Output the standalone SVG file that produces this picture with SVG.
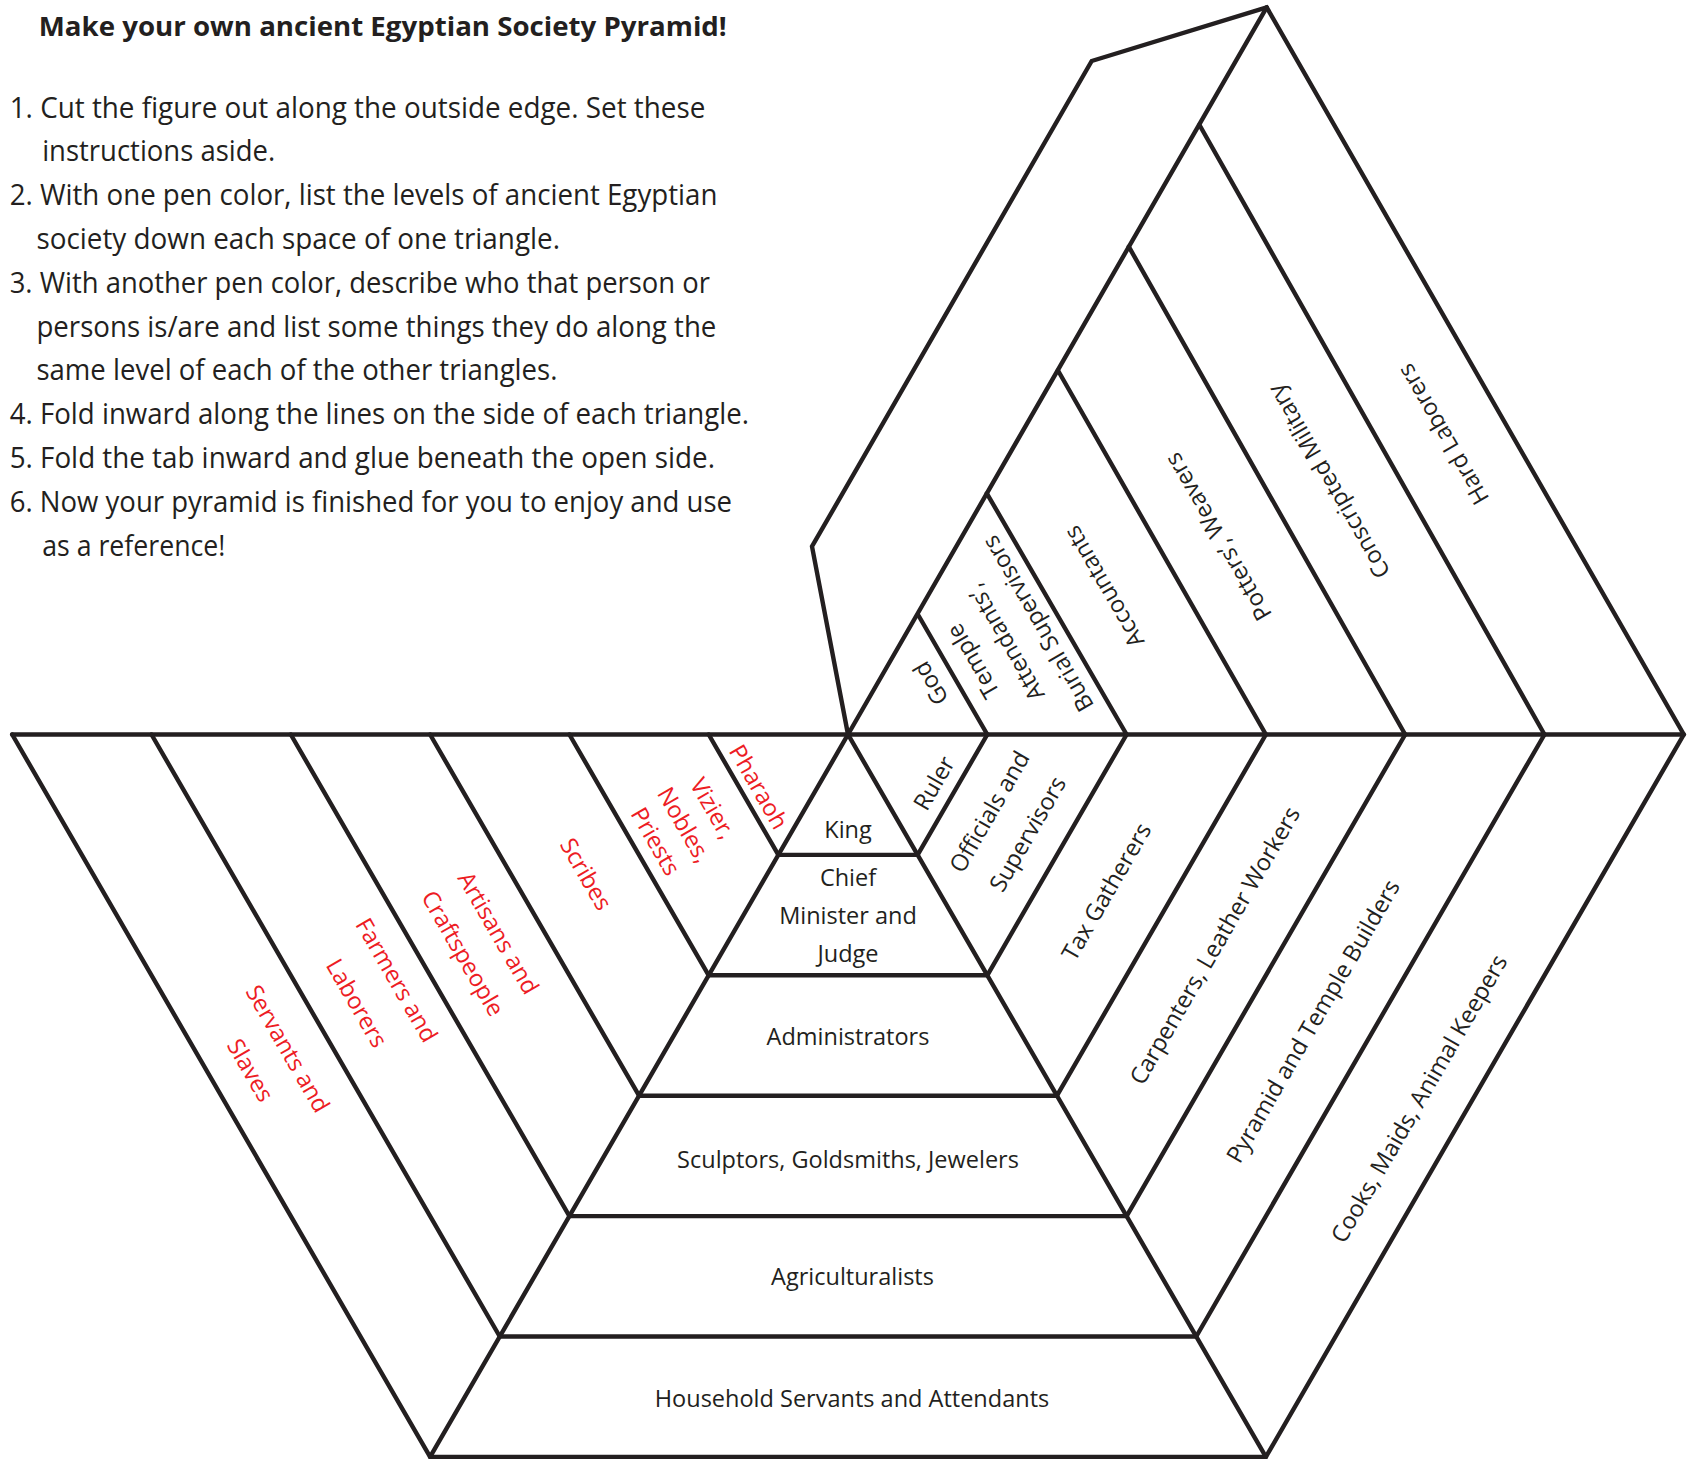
<svg xmlns="http://www.w3.org/2000/svg" width="1688" height="1459" viewBox="0 0 1688 1459">
<style>
  .ln { fill: none; stroke: #231f20; stroke-width: 4.4; stroke-linejoin: miter; stroke-linecap: round; }
  .t { font-family: "Open Sans", "Noto Sans", "Liberation Sans", sans-serif; font-size: 23.5px; fill: #231f20; text-anchor: middle; }
  .red { fill: #ed1c24; }
  .ins { font-family: "Open Sans", "Noto Sans", "Liberation Sans", sans-serif; font-size: 29px; fill: #231f20; }
  .title { font-family: "Open Sans", "Noto Sans", "Liberation Sans", sans-serif; font-size: 27.5px; font-weight: bold; fill: #231f20; }
</style>
<rect width="1688" height="1459" fill="#ffffff"/>

<g id="instructions">
  <text class="title" x="38.8" y="35.5" textLength="688" lengthAdjust="spacingAndGlyphs">Make your own ancient Egyptian Society Pyramid!</text>
  <text class="ins" x="9.7" y="117.5" textLength="695.6" lengthAdjust="spacingAndGlyphs">1. Cut the figure out along the outside edge. Set these</text>
  <text class="ins" x="42.2" y="161.3" textLength="233" lengthAdjust="spacingAndGlyphs">instructions aside.</text>
  <text class="ins" x="9.7" y="205.1" textLength="707.7" lengthAdjust="spacingAndGlyphs">2. With one pen color, list the levels of ancient Egyptian</text>
  <text class="ins" x="36.4" y="248.9" textLength="523.6" lengthAdjust="spacingAndGlyphs">society down each space of one triangle.</text>
  <text class="ins" x="9.7" y="292.7" textLength="700.3" lengthAdjust="spacingAndGlyphs">3. With another pen color, describe who that person or</text>
  <text class="ins" x="36.4" y="336.5" textLength="680" lengthAdjust="spacingAndGlyphs">persons is/are and list some things they do along the</text>
  <text class="ins" x="36.4" y="380.3" textLength="521" lengthAdjust="spacingAndGlyphs">same level of each of the other triangles.</text>
  <text class="ins" x="9.7" y="424.1" textLength="739.3" lengthAdjust="spacingAndGlyphs">4. Fold inward along the lines on the side of each triangle.</text>
  <text class="ins" x="9.7" y="467.9" textLength="705.3" lengthAdjust="spacingAndGlyphs">5. Fold the tab inward and glue beneath the open side.</text>
  <text class="ins" x="9.7" y="511.7" textLength="722.3" lengthAdjust="spacingAndGlyphs">6. Now your pyramid is finished for you to enjoy and use</text>
  <text class="ins" x="42.2" y="555.5" textLength="183.2" lengthAdjust="spacingAndGlyphs">as a reference!</text>
</g>

<g id="lines" class="ln">
  <!-- outer cut edge -->
  <path d="M12.2,734.5 L430.1,1456.9 L1265.9,1456.9 L1683.8,734.5 L1266.7,7.3 L1091.7,61 L812,546.5 L848,734.5"/>
  <path d="M12.2,734.5 L1683.8,734.5"/>
  <!-- central pyramid -->
  <path d="M430.1,1456.9 L848,734.5 L1265.9,1456.9"/>
  <path d="M778.35,854.9 H917.65 M708.7,975.3 H987.3 M639.05,1095.7 H1056.95 M569.4,1216.1 H1126.6 M499.75,1336.5 H1196.25"/>
  <!-- left wing -->
  <path d="M708.7,734.5 L778.35,854.9 M569.4,734.5 L708.7,975.3 M430.1,734.5 L639.05,1095.7 M290.8,734.5 L569.4,1216.1 M151.5,734.5 L499.75,1336.5"/>
  <!-- right wing -->
  <path d="M987.3,734.5 L917.65,854.9 M1126.6,734.5 L987.3,975.3 M1265.9,734.5 L1056.95,1095.7 M1405.2,734.5 L1126.6,1216.1 M1544.5,734.5 L1196.25,1336.5"/>
  <!-- upper wing -->
  <path d="M848,734.5 L1266.7,7.3"/>
  <path d="M918.5,615.5 L987.3,734.5 M986.8,493.3 L1126.6,734.5 M1058,370.5 L1265.9,734.5 M1128.8,246.7 L1405.2,734.5 M1199.5,125 L1544.5,734.5"/>
</g>

<g id="center-face">
  <text class="t" x="848" y="837.7">King</text>
  <text class="t" x="848" y="886">Chief</text>
  <text class="t" x="848" y="924">Minister and</text>
  <text class="t" x="848" y="961.5">Judge</text>
  <text class="t" x="848" y="1045">Administrators</text>
  <text class="t" x="848" y="1167.5">Sculptors, Goldsmiths, Jewelers</text>
  <text class="t" x="852.5" y="1284.5">Agriculturalists</text>
  <text class="t" x="852" y="1407">Household Servants and Attendants</text>
</g>

<g id="left-face">
  <g transform="translate(758.5,787) rotate(60)"><text class="t red" x="0" y="8">Pharaoh</text></g>
  <g transform="translate(684,825) rotate(60)">
    <text class="t red" x="0" y="-25">Vizier,</text>
    <text class="t red" x="0" y="8">Nobles,</text>
    <text class="t red" x="0" y="41">Priests</text>
  </g>
  <g transform="translate(585.8,874.2) rotate(60)"><text class="t red" x="0" y="8">Scribes</text></g>
  <g transform="translate(480.4,943.3) rotate(60)">
    <text class="t red" x="0" y="-12.5">Artisans and</text>
    <text class="t red" x="0" y="28.5">Craftspeople</text>
  </g>
  <g transform="translate(376.5,991.7) rotate(60)">
    <text class="t red" x="0" y="-15">Farmers and</text>
    <text class="t red" x="0" y="31">Laborers</text>
  </g>
  <g transform="translate(268.8,1059.6) rotate(60)">
    <text class="t red" x="0" y="-13.5">Servants and</text>
    <text class="t red" x="0" y="29.5">Slaves</text>
  </g>
</g>

<g id="right-face">
  <g transform="translate(934.2,783.3) rotate(-60)"><text class="t" x="0" y="8">Ruler</text></g>
  <g transform="translate(1008.8,823) rotate(-60)">
    <text class="t" x="0" y="-14">Officials and</text>
    <text class="t" x="0" y="30">Supervisors</text>
  </g>
  <g transform="translate(1106.7,891.7) rotate(-60)"><text class="t" x="0" y="8">Tax Gatherers</text></g>
  <g transform="translate(1216.7,946.7) rotate(-60)"><text class="t" x="0" y="6">Carpenters, Leather Workers</text></g>
  <g transform="translate(1315,1022.3) rotate(-60)"><text class="t" x="0" y="6">Pyramid and Temple Builders</text></g>
  <g transform="translate(1421,1099.7) rotate(-60)"><text class="t" x="0" y="6">Cooks, Maids, Animal Keepers</text></g>
</g>

<g id="upper-face">
  <g transform="translate(930.8,683.3) rotate(-120)"><text class="t" x="0" y="8">God</text></g>
  <g transform="translate(1006,642) rotate(-120)">
    <text class="t" x="0" y="-30">Temple</text>
    <text class="t" x="0" y="7.5">Attendants’,</text>
    <text class="t" x="0" y="45">Burial Supervisors</text>
  </g>
  <g transform="translate(1104.2,586.7) rotate(-120)"><text class="t" x="0" y="8">Accountants</text></g>
  <g transform="translate(1218.3,536.7) rotate(-120)"><text class="t" x="0" y="8">Potters’, Weavers</text></g>
  <g transform="translate(1330,480.8) rotate(-120)"><text class="t" x="0" y="7">Conscripted Military</text></g>
  <g transform="translate(1443.3,434.2) rotate(-120)"><text class="t" x="0" y="8">Hard Laborers</text></g>
</g>
</svg>
